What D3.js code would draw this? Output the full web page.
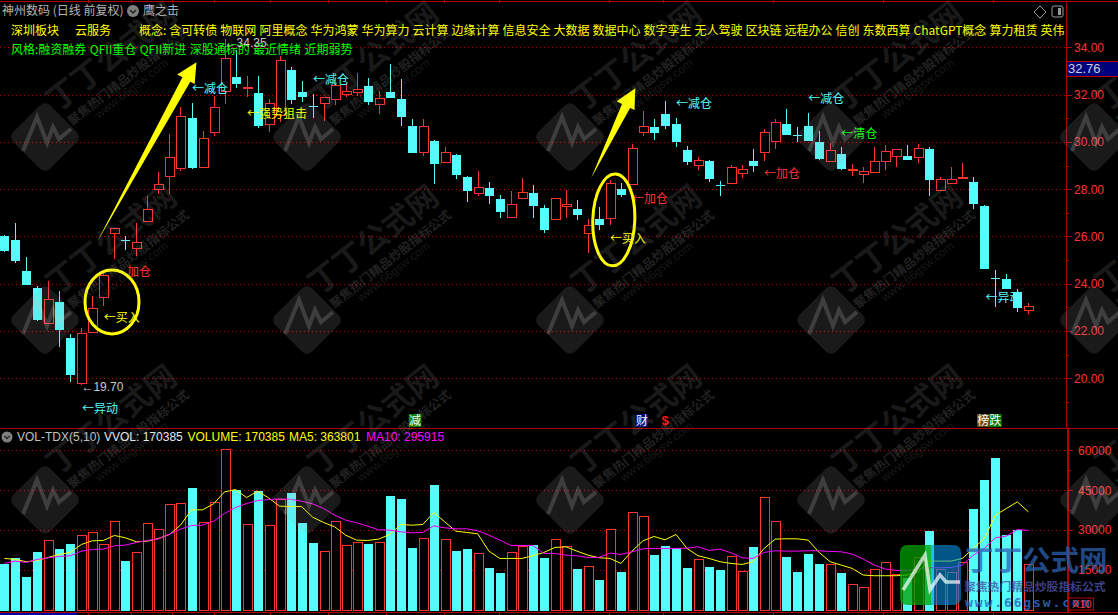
<!DOCTYPE html>
<html><head><meta charset="utf-8">
<script src="https://cdn.jsdelivr.net/npm/d3@7"></script>
<style>html,body{margin:0;padding:0;background:#000;overflow:hidden}svg{display:block}
text{font-family:"Noto Sans CJK SC","Noto Sans",sans-serif}
.num{font-family:"Liberation Sans",Arial,sans-serif}</style></head><body>
<svg id="c" width="1118" height="615"></svg>
<script>
const opens=[26.06,25.88,24.58,23.85,22.31,23.27,21.75,19.78,21.93,23.41,26.12,25.88,25.50,26.63,27.98,28.55,28.87,31.05,28.91,30.39,32.12,32.79,32.28,32.11,30.76,31.14,33.08,32.15,31.55,31.62,31.78,32.03,32.08,32.41,31.57,32.15,31.86,30.71,29.54,30.08,29.15,29.49,28.56,27.81,28.09,27.63,26.82,27.63,27.88,27.23,26.71,27.26,27.21,26.13,26.78,26.75,28.05,28.21,30.39,30.66,31.21,30.79,29.70,29.00,29.23,28.22,28.28,28.69,29.23,29.55,30.02,30.80,30.34,30.71,30.04,29.19,29.53,28.84,28.64,28.73,29.16,29.40,29.45,29.36,29.74,27.97,28.23,28.49,28.35,27.33,24.27,24.25,23.70,22.89];
const highs=[26.06,26.56,25.13,23.91,24.12,23.70,21.88,22.13,23.48,24.49,26.35,26.02,26.58,27.71,28.71,30.32,31.46,31.63,30.46,31.94,34.35,33.89,32.79,32.79,31.81,33.63,33.18,32.57,32.01,31.89,32.62,32.49,32.90,32.69,32.14,33.29,32.66,30.97,30.97,30.08,29.78,29.49,28.56,28.77,28.30,27.75,27.92,28.47,28.18,27.33,27.61,27.97,27.54,26.73,27.23,28.39,28.27,29.91,31.31,30.97,31.72,31.01,29.83,29.36,29.23,28.35,29.02,29.02,29.70,30.53,30.97,31.39,30.64,31.22,30.46,29.95,29.78,29.07,28.94,29.78,29.87,29.69,29.87,29.91,29.78,28.52,28.94,29.09,28.52,27.33,24.57,24.41,23.78,23.17];
const lows=[25.34,24.89,23.95,22.43,22.31,21.34,19.85,19.70,21.93,23.06,25.05,25.43,25.18,26.63,27.80,27.80,28.78,28.87,28.91,30.25,31.60,32.29,31.89,30.60,30.43,30.85,31.59,31.69,31.01,30.90,31.56,31.90,31.94,31.56,31.18,31.86,30.67,29.53,29.40,28.22,29.12,28.43,27.46,27.72,27.37,26.78,26.78,27.59,26.78,26.16,26.71,26.79,26.70,25.29,26.27,26.49,27.68,28.21,30.26,30.08,30.56,29.78,29.02,28.81,28.30,27.73,28.28,28.49,28.73,29.19,29.70,30.29,30.00,30.04,29.23,29.19,28.81,28.57,28.26,28.69,28.81,28.94,29.23,29.11,27.71,27.95,28.23,28.49,27.16,24.67,23.03,23.82,22.81,22.72];
const closes=[25.43,25.01,23.99,22.51,23.34,22.09,20.19,21.91,22.96,24.36,26.35,25.85,25.75,27.15,28.21,29.35,31.08,28.94,30.15,31.46,33.53,32.50,32.31,30.71,31.63,33.45,31.83,31.94,31.53,31.89,32.39,32.14,32.22,31.73,31.84,31.90,31.10,29.56,30.66,29.11,29.56,28.64,27.97,28.08,27.75,27.08,27.36,27.87,27.33,26.32,27.61,27.36,26.95,26.47,26.53,28.25,27.80,29.73,30.66,30.42,30.71,30.04,29.19,29.22,28.47,28.20,28.94,28.84,29.02,30.40,30.83,30.33,30.32,30.08,29.32,29.64,28.90,28.86,28.76,29.18,29.60,29.69,29.28,29.73,28.43,28.42,28.42,28.53,27.42,24.67,24.25,23.82,23.02,23.06];
const volumes=[17625,19750,12750,22125,26125,23250,25125,28000,29125,24625,33250,18750,21625,32500,30250,40000,40375,46125,32875,40750,60625,45375,32125,45000,31750,41625,44250,33000,25500,22000,33625,24250,25375,25125,25375,43125,42000,23625,26875,47250,26500,22500,23250,21250,16125,14250,21625,24000,24750,19875,26500,23875,15750,16375,11625,30250,14625,37000,35500,21000,24375,23625,16125,19000,16500,15375,20125,14500,24000,42625,33250,20250,14625,21375,17625,17125,14250,9625,8500,15250,17875,13375,12250,19750,30000,15250,14250,17875,38250,49125,57375,28500,30375,17125];
const ma5=[19375,19000,18125,18625,19750,20875,21625,24625,26000,26125,28000,27125,25625,25875,26875,28375,31875,37625,37625,39875,44375,45250,42250,44625,42125,39000,38875,38875,34875,32875,31250,28125,26250,26125,26625,28375,32125,31875,32125,36625,33125,29625,29125,28625,22125,19375,19375,19375,20375,21625,23500,23750,22125,20625,19625,19375,17500,22125,26000,27625,26375,28375,23125,20375,19375,18125,17500,17125,18125,23125,26625,26750,26750,26250,21625,18125,16875,15625,13125,12875,12875,12875,13125,14375,18375,18375,18375,19375,23125,26875,35625,38125,40625,36875];
const ma10=[17500,18375,17875,19000,19625,20125,20375,22125,22750,22875,24125,24375,25375,26125,26750,28500,30375,31750,31875,33375,36250,38500,40000,41125,41500,41750,41625,40875,39875,38125,35625,33750,32750,31500,30125,30000,29375,29000,29125,31625,30875,30500,30500,29750,28125,26250,24250,24250,24250,21250,21250,20625,20375,19750,19750,21375,20875,21875,23000,23125,23125,23125,23250,23750,22375,22875,21500,19625,19375,21625,22250,22125,22125,22250,22250,22000,21875,21000,19125,16875,15375,14875,14875,15375,15875,15875,16000,16875,20625,23125,27125,27750,30250,29875];
const priceTicks=[20,22,24,26,28,30,32,34];
const priceMinor=[19,21,23,25,27,29,31,33];
const volTicks=[15000,30000,45000,60000];
const volMinor=[7500,22500,37500,52500];
const monthTicks=[7.6,11.5,15.2,19,24.1,29.4,34.7,39.9,44.9,54.9,59.8,69.8,79.8,89.8];
const boardTags=["深圳板块"];
const serviceTags=["云服务"];
const conceptTags=["概念:","含可转债","物联网","阿里概念","华为鸿蒙","华为算力","云计算","边缘计算","信息安全","大数据","数据中心","数字孪生","无人驾驶","区块链","远程办公","信创","东数西算","ChatGPT概念","算力租赁","英伟"];
const styleTags=["风格:融资融券","QFII重仓","QFII新进","深股通标的","最近情绪","近期弱势"];
const notes=[
 [9.02,22.55,"←买入","#ffff00"],[11.15,24.51,"加仓","#ff3232"],[7.06,18.71,"←异动","#54fcfc"],
 [17.05,32.27,"←减仓","#54fcfc"],[28.03,32.62,"←减仓","#54fcfc"],[22.04,31.18,"←强势狙击","#ffff00"],
 [61,31.6,"←减仓","#54fcfc"],[73,31.81,"←减仓","#54fcfc"],[76,30.33,"←清仓","#00ff00"],
 [69,28.64,"←加仓","#ff3232"],[57,27.59,"←加仓","#ff3232"],[55,25.89,"←买入","#ffff00"],[89.1,23.41,"←异动","#54fcfc"]];
const priceMarks=[[20,34.19,"←34.35"],[7,19.65,"←19.70"]];
const eventTags=[[37.3,"减","#007a00","#fff"],[57.9,"财","#000080","#fff"],[88.9,"榜","#6b4a10","#fff"],[90,"跌","#007a00","#fff"]];
const arrows=[[8.4,25.74,17.45,33.37],[53.3,28.47,57.3,32.27]];
const rings=[[9.78,23.23,27,32,0],[55.35,26.7,21,46,2]];
const wmX=[45,307,570,831,1094];
const wmY=[137,320,500];
const RED="#ff3232",CYAN="#54fcfc",AX="#b00000";

const svg=d3.select("#c");
const x=d3.scaleLinear().domain([0,93]).range([4.3,1028.4]);
const y=d3.scaleLinear().domain([20,34]).range([378.3,47.3]);
const yv=d3.scaleLinear().domain([0,60000]).range([610,450.3]);
const BW=9, px=v=>Math.round(v)+.5, idx=d3.range(opens.length);
svg.append("rect").attr("width",1118).attr("height",615).attr("fill","#000");

// frame
const frame=svg.append("g").attr("stroke",AX).attr("shape-rendering","crispEdges");
[[0,1,1118,1],[0,428,1118,428],[0,612,1118,612],[1066,1,1066,428]].forEach(l=>frame.append("line").attr("x1",l[0]).attr("y1",l[1]).attr("x2",l[2]).attr("y2",l[3]));
frame.append("line").attr("x1",1068).attr("x2",1068).attr("y1",428).attr("y2",612).attr("stroke-width",2);
frame.append("rect").attr("x",0).attr("y",613).attr("width",77).attr("height",2).attr("fill","#0000a0").attr("stroke","none");
frame.selectAll(".mt").data(monthTicks).join("line").attr("x1",d=>px(x(d))).attr("x2",d=>px(x(d))).attr("y1",612).attr("y2",615);
frame.selectAll(".mt2").data(monthTicks).join("line").attr("x1",d=>px(x(d))).attr("x2",d=>px(x(d))).attr("y1",0).attr("y2",3);

// grids + axes
const dotted=(g,vals,sc)=>g.selectAll("line").data(vals).join("line").attr("x1",0).attr("x2",1066).attr("y1",d=>px(sc(d))).attr("y2",d=>px(sc(d))).attr("stroke","#c00000").attr("stroke-dasharray","1 3").attr("shape-rendering","crispEdges");
dotted(svg.append("g"),priceTicks,y);
dotted(svg.append("g"),volTicks,yv);
const pa=svg.append("g").attr("transform","translate(1066,0)").call(d3.axisRight(y).tickValues(priceTicks).tickFormat(d3.format(".2f")).tickSize(6).tickPadding(2));
const va=svg.append("g").attr("transform","translate(1068,0)").call(d3.axisRight(yv).tickValues(volTicks).tickFormat(d=>d).tickSize(5).tickPadding(5));
[pa,va].forEach(a=>{a.select(".domain").remove();a.selectAll("line").attr("stroke",AX).attr("shape-rendering","crispEdges");
 a.selectAll("text").attr("fill",RED).attr("class","num").attr("font-size",12).attr("font-family",null).style("font-family",'"Liberation Sans",Arial,sans-serif');});
svg.append("g").selectAll("line").data(priceMinor).join("line").attr("x1",1066).attr("x2",1069).attr("y1",d=>px(y(d))).attr("y2",d=>px(y(d))).attr("stroke",AX).attr("shape-rendering","crispEdges");
svg.append("g").selectAll("line").data(volMinor).join("line").attr("x1",1068).attr("x2",1071).attr("y1",d=>px(yv(d))).attr("y2",d=>px(yv(d))).attr("stroke",AX).attr("shape-rendering","crispEdges");

// current-price box
const lastBoxTop=61;
svg.append("rect").attr("x",1067).attr("y",lastBoxTop).attr("width",51).attr("height",15).attr("fill","#00007f");
svg.append("line").attr("x1",1066).attr("x2",1118).attr("y1",lastBoxTop).attr("y2",lastBoxTop).attr("stroke","#c00000").attr("shape-rendering","crispEdges");
svg.append("line").attr("x1",1066).attr("x2",1118).attr("y1",lastBoxTop+15).attr("y2",lastBoxTop+15).attr("stroke","#c00000").attr("shape-rendering","crispEdges");
svg.append("text").attr("class","num").attr("x",1068).attr("y",lastBoxTop+12).attr("font-size",13).attr("fill","#d0d0e0").text("32.76");

// candles
const isUp=i=>closes[i]>=opens[i];
const cg=svg.append("g").attr("shape-rendering","crispEdges");
cg.selectAll(".w").data(idx).join("line").attr("x1",i=>px(x(i))).attr("x2",i=>px(x(i))).attr("y1",i=>y(highs[i])).attr("y2",i=>y(lows[i])).attr("stroke",i=>isUp(i)?RED:CYAN);
cg.selectAll(".b").data(idx).join("rect")
 .attr("x",i=>px(x(i))-BW/2+.0).attr("width",BW)
 .attr("y",i=>px(y(Math.max(opens[i],closes[i]))))
 .attr("height",i=>Math.max(1,Math.round(Math.abs(y(opens[i])-y(closes[i])))))
 .attr("fill",i=>isUp(i)?"#000":CYAN).attr("stroke",i=>isUp(i)?RED:"none");

// event tags
const eg=svg.append("g");
eventTags.forEach(t=>{const c=x(t[0]);
 eg.append("rect").attr("x",c-6.2).attr("y",414).attr("width",12.5).attr("height",13).attr("fill",t[2]);
 eg.append("text").attr("x",c).attr("y",425).attr("text-anchor","middle").attr("font-size",12).attr("fill",t[3]).text(t[1]);});
eg.append("text").attr("class","num").attr("x",x(60)).attr("y",425).attr("text-anchor","middle").attr("font-size",13).attr("font-weight","bold").attr("fill","#ff1010").text("$");

// volume
const vg=svg.append("g").attr("shape-rendering","crispEdges");
vg.selectAll("rect").data(idx).join("rect")
 .attr("x",i=>px(x(i))-BW/2).attr("width",BW)
 .attr("y",i=>px(yv(volumes[i]))).attr("height",i=>Math.round(yv(0)-yv(volumes[i])))
 .attr("fill",i=>isUp(i)?"#000":CYAN).attr("stroke",i=>isUp(i)?RED:"none");
const ln=d3.line().x((d,i)=>x(i)).y(d=>yv(d));
svg.append("path").attr("d",ln(ma5)).attr("fill","none").attr("stroke","#ffff00");
svg.append("path").attr("d",ln(ma10)).attr("fill","none").attr("stroke","#ff00ff");

// header rows
const flow=(tags,startX,yy,color,fs,gap)=>{let cx=startX;tags.forEach(t=>{const n=svg.append("text").attr("x",cx).attr("y",yy).attr("font-size",fs).attr("fill",color).text(t);cx+=n.node().getComputedTextLength()+gap;});};
svg.append("text").attr("x",2).attr("y",15).attr("font-size",12).attr("fill","#b4b4b4").text("神州数码 (日线 前复权)");
svg.append("circle").attr("cx",133).attr("cy",11).attr("r",6).attr("fill","#808080");
svg.append("path").attr("d","M130 10l3 3 3-3").attr("fill","none").attr("stroke","#222").attr("stroke-width",1.5);
svg.append("text").attr("x",143).attr("y",15).attr("font-size",12).attr("fill","#b4b4b4").text("鹰之击");
flow(boardTags,11,35,"#ffff00",12,3);flow(serviceTags,75,35,"#ffff00",12,3);
flow(conceptTags,139,35,"#ffff00",12,3);
flow(styleTags,11,54,"#00ff00",12,3.4);
svg.append("path").attr("d","M1040 6l6 6-6 6-6-6z").attr("fill","none").attr("stroke","#999");
svg.append("rect").attr("x",1052).attr("y",6).attr("width",11).attr("height",11).attr("rx",2).attr("fill","none").attr("stroke","#999");
svg.append("rect").attr("x",1058).attr("y",8).attr("width",3).attr("height",7).attr("fill","#999");

// volume header
const vh=[[17,"VOL-TDX(5,10)","#c0c0c0"],[104,"VVOL: 170385","#e8e8e8"],[187.5,"VOLUME: 170385","#ffff00"],[289,"MA5: 363801","#ffff00"],[366,"MA10: 295915","#ff00ff"]];
svg.append("circle").attr("cx",7).attr("cy",437).attr("r",5.5).attr("fill","#808080");
svg.append("path").attr("d","M4.5 436l2.5 2.5 2.5-2.5").attr("fill","none").attr("stroke","#222").attr("stroke-width",1.3);
vh.forEach(r=>svg.append("text").attr("class","num").attr("x",r[0]).attr("y",441).attr("font-size",12).attr("fill",r[2]).text(r[1]));

// notes on the chart
notes.forEach(n=>svg.append("text").attr("x",x(n[0])).attr("y",y(n[1])).attr("dy","0.36em").attr("font-size",12).attr("fill",n[3]).text(n[2]));
priceMarks.forEach(n=>svg.append("text").attr("class","num").attr("x",x(n[0])).attr("y",y(n[1])).attr("dy","0.36em").attr("font-size",12).attr("fill","#c8c8c8").text(n[2]));

// hand-drawn arrows and circles
arrows.forEach(a=>{const x0=x(a[0]),y0=y(a[1]),x1=x(a[2]),y1=y(a[3]);
 const L=Math.hypot(x1-x0,y1-y0),ux=(x1-x0)/L,uy=(y1-y0)/L,nx=-uy,ny=ux,h=20;
 const bx=x1-ux*h,by=y1-uy*h;
 const P=[[x0,y0],[bx-nx*5,by-ny*5],[bx-nx*11,by-ny*11],[x1,y1],[bx+nx*9,by+ny*9],[bx+nx*4,by+ny*4]];
 svg.append("polygon").attr("points",P.map(p=>p.join(",")).join(" ")).attr("fill","#ffff00");});
rings.forEach(r=>svg.append("ellipse").attr("transform",`translate(${x(r[0])},${y(r[1])}) rotate(${r[4]})`).attr("rx",r[2]).attr("ry",r[3]).attr("fill","none").attr("stroke","#ffff00").attr("stroke-width",3));

// watermark
const wm=svg.append("g");
const beat="M-22 14L-8 -20L2 6L8 -10L14 2L26 -8";
wmY.forEach(cy=>wmX.forEach(cx=>{
 const g=wm.append("g").attr("transform",`translate(${cx},${cy})`);
 g.append("rect").attr("x",-26).attr("y",-26).attr("width",52).attr("height",52).attr("rx",7).attr("transform","rotate(45)").attr("fill","#a0a0a0").attr("fill-opacity",.16);
 g.append("path").attr("d",beat).attr("fill","none").attr("stroke","#d0d0d0").attr("stroke-opacity",.2).attr("stroke-width",4);
 g.append("text").attr("transform","translate(12,-24) rotate(-38)").attr("font-size",31).attr("font-weight","bold").attr("fill","#a0a0a0").attr("fill-opacity",.16).text("丁丁公式网");
 g.append("text").attr("transform","translate(27,-11) rotate(-38)").attr("font-size",12.5).attr("font-weight","bold").attr("fill","#b0b0b0").attr("fill-opacity",.2).text("聚焦热门精品炒股指标公式");
 g.append("text").attr("class","num").attr("transform","translate(54,-18) rotate(-38)").attr("font-size",12).attr("fill","#a0a0a0").attr("fill-opacity",.16).text("www.66gsw.com");
}));

// logo bottom right
const lg=svg.append("g");
lg.append("path").attr("d","M907 545h24v60h-24a7 7 0 0 1-7-7v-46a7 7 0 0 1 7-7z").attr("fill","#00a000").attr("opacity",.75);
lg.append("path").attr("d","M931 545h23a7 7 0 0 1 7 7v46a7 7 0 0 1-7 7h-23z").attr("fill","#0090e0").attr("opacity",.6);
lg.append("path").attr("d","M903 590L925 555L930 590L940 575L946 582H960").attr("fill","none").attr("stroke","#ffffff").attr("stroke-opacity",.7).attr("stroke-width",3.5);
lg.append("text").attr("x",965).attr("y",571).attr("font-size",28.5).attr("font-weight","bold").attr("fill","#2a62b0").attr("opacity",.75).text("丁丁公式网");
lg.append("text").attr("x",964).attr("y",591).attr("font-size",11.8).attr("font-weight","bold").attr("fill","#4a50a8").attr("opacity",.8).text("聚焦热门精品炒股指标公式");
lg.append("text").attr("x",965).attr("y",607).attr("font-size",13).attr("font-weight","bold").attr("letter-spacing",1.9).attr("fill","#3068c0").attr("opacity",.85).style("font-family","'DejaVu Sans Mono',monospace").text("www.66gsw.com");

// unit box
svg.append("rect").attr("x",1068.5).attr("y",598).attr("width",25).attr("height",12).attr("fill","none").attr("stroke",AX);
svg.append("text").attr("class","num").attr("x",1072).attr("y",608).attr("font-size",11).attr("fill",RED).text("X10");
</script></body></html>
